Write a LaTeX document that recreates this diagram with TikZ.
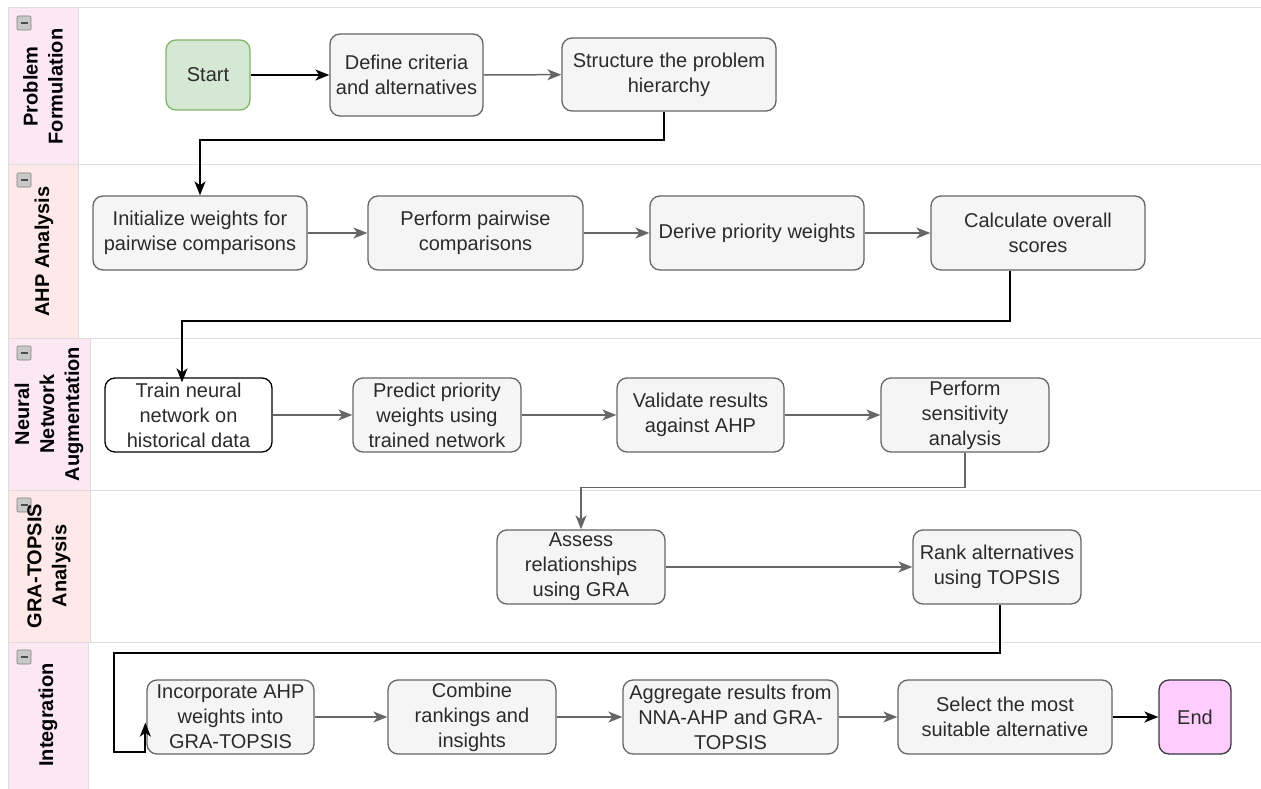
\documentclass[tikz,border=0pt]{standalone}
\usepackage{fontspec}
\setmainfont{Liberation Sans}
\usetikzlibrary{arrows.meta,calc}
\definecolor{boxfill}{HTML}{F5F5F5}
\definecolor{boxline}{HTML}{666666}
\definecolor{txt}{HTML}{2B2B2B}
\definecolor{startfill}{HTML}{D5E8D4}
\definecolor{startline}{HTML}{82B366}
\definecolor{endfill}{HTML}{FFCCFF}
\definecolor{endline}{HTML}{36393D}
\definecolor{hdrA}{HTML}{FCE8F2}
\definecolor{hdrB}{HTML}{FFE8E8}
\definecolor{laneline}{HTML}{DDDDDD}
\definecolor{iconfill}{HTML}{C8C8C8}
\begin{document}
\begin{tikzpicture}[x=1pt,y=-1pt,
  lanebox/.style={draw=laneline, line width=1pt},
  hdrtext/.style={rotate=90, align=center, font=\fontsize{20}{25}\selectfont\bfseries, text=black, inner sep=0pt},
  icon/.style={draw=gray, fill=iconfill, line width=0.6pt, rounded corners=1pt},
  stepbox/.style={draw=boxline, fill=boxfill, line width=1.3pt, rounded corners=10pt, align=center, text=txt,
    font=\fontsize{20}{25}\selectfont, inner sep=0pt, minimum height=74pt},
  gry/.style={draw=boxline, line width=1.5pt, -{Stealth[length=14pt,width=11pt,inset=4pt]}},
  blk/.style={draw=black, line width=1.8pt, -{Stealth[length=14pt,width=11pt,inset=4pt]}}
]
\useasboundingbox (0,0) rectangle (1261,789);
\fill[white] (0,0) rectangle (1261,789);
% lanes
\draw[lanebox, fill=white] (8,8) rectangle (1280,165);
\draw[lanebox, fill=white] (8,165) rectangle (1280,338);
\draw[lanebox, fill=white] (8,338) rectangle (1280,490);
\draw[lanebox, fill=white] (8,490) rectangle (1280,642);
\draw[lanebox, fill=white] (8,642) rectangle (1280,800);
\draw[lanebox, fill=hdrA] (8,8) rectangle (78,165);
\draw[lanebox, fill=hdrB] (8,165) rectangle (78,338);
\draw[lanebox, fill=hdrA] (8,338) rectangle (90,490);
\draw[lanebox, fill=hdrB] (8,490) rectangle (90,642);
\draw[lanebox, fill=hdrA] (8,642) rectangle (88,800);
% collapse icons
\foreach \t in {8,165,338,490,642}{
  \draw[icon] (17,\t+8) rectangle (31,\t+22);
  \draw[black!70, line width=1.4pt] (20.5,\t+15) -- (27.5,\t+15);
}
\node[hdrtext] (h1) at (43,86.5) {Problem\\Formulation};
\node[hdrtext] (h2) at (44,251.5) {AHP Analysis};
\node[hdrtext] (h3) at (49,414) {Neural\\Network\\Augmentation};
\node[hdrtext] (h4) at (49,566) {GRA-TOPSIS\\Analysis};
\node[hdrtext] (h5) at (48,715) {Integration};
% nodes
\node[stepbox, fill=startfill, draw=startline, minimum width=84pt, minimum height=70pt] (start) at (208,75) {Start};
\node[stepbox, minimum width=153pt, minimum height=82pt] (define) at (406.5,75) {Define criteria\\and alternatives};
\node[stepbox, minimum width=214pt, minimum height=73pt] (struct) at (669,74.5) {Structure the problem\\hierarchy};
\node[stepbox, minimum width=214pt] (init) at (200,233) {Initialize weights for\\pairwise comparisons};
\node[stepbox, minimum width=215pt] (pair) at (475.5,233) {Perform pairwise\\comparisons};
\node[stepbox, minimum width=214pt] (derive) at (757,233) {Derive priority weights};
\node[stepbox, minimum width=214pt] (calc) at (1038,233) {Calculate overall\\scores};
\node[stepbox, fill=white, draw=black, minimum width=167pt] (train) at (188.5,415) {Train neural\\network on\\historical data};
\node[stepbox, minimum width=168pt] (predict) at (437,415) {Predict priority\\weights using\\trained network};
\node[stepbox, minimum width=167pt] (valid) at (700.5,415) {Validate results\\against AHP};
\node[stepbox, minimum width=168pt] (sens) at (965,415) {Perform\\sensitivity\\analysis};
\node[stepbox, minimum width=168pt] (assess) at (581,567) {Assess\\relationships\\using GRA};
\node[stepbox, minimum width=168pt] (rank) at (997,567) {Rank alternatives\\using TOPSIS};
\node[stepbox, minimum width=167pt] (inc) at (230.5,717) {Incorporate AHP\\weights into\\GRA-TOPSIS};
\node[stepbox, minimum width=168pt] (comb) at (472,717) {Combine\\rankings and\\insights};
\node[stepbox, minimum width=215pt] (agg) at (730.5,717) {Aggregate results from\\NNA-AHP and GRA-\\TOPSIS};
\node[stepbox, minimum width=214pt] (select) at (1005,717) {Select the most\\suitable alternative};
\node[stepbox, fill=endfill, draw=endline, minimum width=72pt] (end) at (1195,717) {End};
% connectors
\draw[blk] (start) -- (define);
\draw[gry] (define) -- (struct);
\draw[blk] ([xshift=-5pt]struct.south) -- ++(0,28) -| (init.north);
\draw[gry] (init) -- (pair);
\draw[gry] (pair) -- (derive);
\draw[gry] (derive) -- (calc);
\draw[blk] ([xshift=-28pt]calc.south) -- ++(0,50) -| ([xshift=-6.5pt,yshift=-5pt]train.north);
\draw[gry] (train) -- (predict);
\draw[gry] (predict) -- (valid);
\draw[gry] (valid) -- (sens);
\draw[gry] (sens.south) -- ++(0,35) -| (assess.north);
\draw[gry] (assess) -- (rank);
\coordinate (r1) at ($(inc.south west)+(-32,-3)$);
\draw[blk] ([xshift=3pt]rank.south) -- ++(0,48) -| (r1) -- ++(31,0) -- ++(0,-29);
\draw[gry] (inc) -- (comb);
\draw[gry] (comb) -- (agg);
\draw[gry] (agg) -- (select);
\draw[blk] (select) -- (end);
\end{tikzpicture}
\end{document}
